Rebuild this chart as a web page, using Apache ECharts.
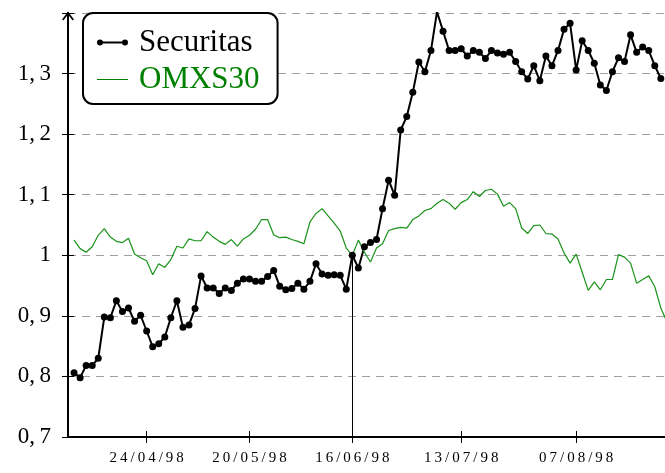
<!DOCTYPE html>
<html>
<head>
<meta charset="utf-8">
<script src="https://cdn.jsdelivr.net/npm/echarts@6/dist/echarts.min.js"></script>
<style>
  html, body { margin: 0; padding: 0; background: #fff; }
  #chart { width: 665px; height: 473px; }
</style>
</head>
<body>
<div id="chart"></div>
<script>
// trading days, index 0 = first day in the sample
var securitas = [
  0.806, 0.798, 0.818, 0.818, 0.830, 0.898, 0.897, 0.925, 0.907, 0.913,
  0.891, 0.901, 0.875, 0.849, 0.854, 0.865, 0.897, 0.925, 0.881, 0.885,
  0.912, 0.966, 0.946, 0.946, 0.937, 0.946, 0.942, 0.954, 0.961, 0.961,
  0.957, 0.957, 0.965, 0.975, 0.949, 0.943, 0.945, 0.954, 0.944, 0.957,
  0.986, 0.969, 0.967, 0.968, 0.967, 0.944, 1.000, 0.979, 1.014, 1.021,
  1.026, 1.077, 1.124, 1.099, 1.207, 1.229, 1.269, 1.319, 1.303, 1.338,
  1.402, 1.370, 1.338, 1.338, 1.341, 1.329, 1.338, 1.335, 1.325, 1.338,
  1.334, 1.332, 1.335, 1.320, 1.303, 1.291, 1.313, 1.288, 1.329, 1.313,
  1.338, 1.373, 1.383, 1.306, 1.354, 1.338, 1.317, 1.281, 1.272, 1.303,
  1.326, 1.320, 1.364, 1.335, 1.344, 1.338, 1.313, 1.292
];
var omxs30 = [
  1.025, 1.011, 1.005, 1.014, 1.033, 1.044, 1.030, 1.023, 1.021, 1.028,
  1.002, 0.996, 0.991, 0.968, 0.986, 0.980, 0.993, 1.015, 1.012, 1.027,
  1.024, 1.024, 1.039, 1.030, 1.023, 1.018, 1.026, 1.015, 1.027, 1.033,
  1.043, 1.059, 1.059, 1.034, 1.029, 1.030, 1.026, 1.023, 1.019, 1.055,
  1.069, 1.077, 1.065, 1.053, 1.040, 1.012, 1.000, 1.025, 1.005, 0.989,
  1.012, 1.019, 1.041, 1.044, 1.046, 1.045, 1.059, 1.065, 1.074, 1.077,
  1.086, 1.092, 1.086, 1.076, 1.087, 1.092, 1.105, 1.097, 1.107, 1.109,
  1.101, 1.081, 1.087, 1.077, 1.045, 1.036, 1.049, 1.050, 1.036, 1.035,
  1.027, 1.004, 0.987, 1.002, 0.972, 0.942, 0.956, 0.943, 0.960, 0.960,
  1.001, 0.997, 0.987, 0.954, 0.960, 0.966, 0.948, 0.913, 0.890
];
// date ticks on the x axis (trading day index -> label)
var tickDays = [12, 29, 46, 64, 83];
var tickLabels = ['24/04/98', '20/05/98', '16/06/98', '13/07/98', '07/08/98'];
var baseDay = 46; // both series rebased to 1 here

var serif = "'Liberation Serif', 'DejaVu Serif', serif";
var green = '#008000';

function toPairs(arr) {
  return arr.map(function (v, i) { return [i, v]; });
}

function spaced(s) {
  return s.split('').join('\u2009');
}

var chart = echarts.init(document.getElementById('chart'));

var xCommon = {
  type: 'value',
  min: -1,
  max: 97.69,
  splitLine: { show: false }
};
var yCommon = {
  type: 'value',
  min: 0.7,
  max: 1.4,
  interval: 0.1,
  position: 'left'
};

chart.setOption({
  animation: false,
  grid: { left: 68, right: 0, top: 13, bottom: 36 },
  legend: {
    orient: 'vertical',
    left: 83,
    top: 13,
    padding: [14, 18, 9, 14],
    itemGap: 6,
    itemWidth: 37,
    itemHeight: 8,
    borderColor: '#000',
    borderWidth: 2,
    borderRadius: 10,
    backgroundColor: '#fff',
    textStyle: { fontFamily: serif, fontSize: 31, lineHeight: 24, color: '#000' },
    data: [
      {
        name: 'Securitas',
        icon: 'path://M0,4A3,3 0 1 1 6,4A3,3 0 1 1 0,4ZM25,4A3,3 0 1 1 31,4A3,3 0 1 1 25,4ZM3,3.1L28,3.1L28,4.9L3,4.9ZM37,4L37,4.01'
      },
      {
        name: 'OMXS30',
        icon: 'path://M0,3.5L31,3.5L31,4.5L0,4.5ZM37,4L37,4.01',
        textStyle: { color: green }
      }
    ]
  },
  xAxis: [
    Object.assign({}, xCommon, {
      position: 'bottom',
      axisLine: { onZero: false, lineStyle: { color: '#000', width: 2 } },
      axisTick: { customValues: tickDays, length: 6, lineStyle: { color: '#000', width: 1 } },
      axisLabel: {
        customValues: tickDays,
        margin: 14,
        fontFamily: serif,
        fontSize: 15,
        color: '#000',
        formatter: function (v) {
          var k = tickDays.indexOf(Math.round(v));
          return k < 0 ? '' : spaced(tickLabels[k]);
        }
      }
    }),
    Object.assign({}, xCommon, {
      position: 'bottom',
      axisLine: { show: false, onZero: false },
      axisTick: { customValues: tickDays, inside: true, length: 6, lineStyle: { color: '#000', width: 1 } },
      axisLabel: { show: false }
    })
  ],
  yAxis: [
    Object.assign({}, yCommon, {
      axisLine: {
        show: true,
        onZero: false,
        lineStyle: { color: '#000', width: 2 },
        symbol: ['none', 'path://M0,8L6,0L12,8L10.6,9L6,3L1.4,9Z'],
        symbolSize: [12, 9],
        symbolOffset: [0, -3]
      },
      axisTick: { show: true, length: 6, lineStyle: { color: '#000', width: 1 } },
      axisLabel: {
        margin: 17,
        fontFamily: serif,
        fontSize: 23,
        color: '#000',
        formatter: function (v) {
          if (v > 1.35) return '';
          var s = (Math.round(v * 10) / 10).toString();
          return s.replace('.', ',\u2009');
        }
      },
      splitLine: {
        show: true,
        lineStyle: { color: '#a0a0a0', width: 1.2, type: [8, 6] }
      }
    }),
    Object.assign({}, yCommon, {
      axisLine: { show: false, onZero: false },
      axisTick: { show: true, inside: true, length: 6, lineStyle: { color: '#000', width: 1 } },
      axisLabel: { show: false },
      splitLine: { show: false }
    })
  ],
  series: [
    {
      name: 'Securitas',
      type: 'line',
      xAxisIndex: 0,
      yAxisIndex: 0,
      data: toPairs(securitas),
      symbol: 'circle',
      symbolSize: 7,
      showSymbol: true,
      itemStyle: { color: '#000' },
      lineStyle: { color: '#000', width: 2 },
      markLine: {
        silent: true,
        symbol: ['none', 'none'],
        label: { show: false },
        lineStyle: { color: '#000', width: 1, type: 'solid' },
        data: [[{ coord: [baseDay, 0.7] }, { coord: [baseDay, securitas[baseDay]] }]]
      }
    },
    {
      name: 'OMXS30',
      type: 'line',
      xAxisIndex: 0,
      yAxisIndex: 0,
      data: toPairs(omxs30),
      symbol: 'none',
      itemStyle: { color: green },
      lineStyle: { color: '#1a931a', width: 1.2 }
    }
  ]
});
</script>
</body>
</html>
